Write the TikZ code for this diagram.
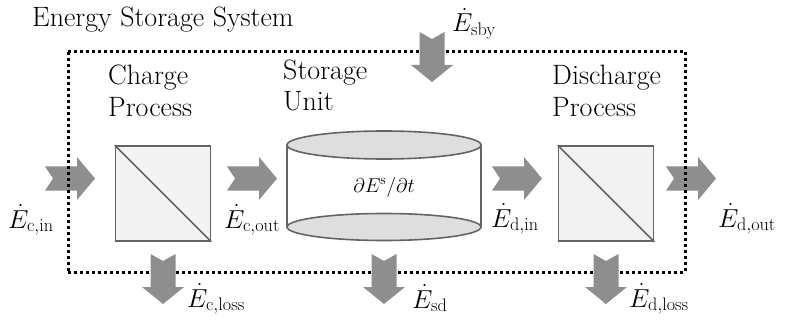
\RequirePackage{fix-cm}
\documentclass[tikz,border=0pt]{standalone}
\definecolor{arrowgray}{RGB}{142,142,142}
\definecolor{boxfill}{RGB}{242,242,242}
\definecolor{boxline}{RGB}{100,100,100}
\definecolor{capfill}{RGB}{222,222,222}
\tikzset{
  rarrow/.pic={\fill[arrowgray] (-25,-12) -- (7,-12) -- (7,-21.5) -- (25,0) -- (7,21.5) -- (7,12) -- (-25,12) -- (-17,0) -- cycle;},
  darrow/.pic={\fill[arrowgray] (-12.5,-25) -- (-12.5,8) -- (-21,8) -- (0,25) -- (21,8) -- (12.5,8) -- (12.5,-25) -- (0,-18) -- cycle;},
  sysline/.style={line width=3pt, dash pattern=on 3pt off 3pt, black},
  procbox/.style={draw=boxline, fill=boxfill, line width=1.6pt},
  lbl/.style={inner sep=0pt, anchor=base west, font=\fontsize{28}{32}\selectfont},
  mlbl/.style={inner sep=0pt, anchor=base west, font=\fontsize{26}{30}\selectfont},
}
\begin{document}
\begin{tikzpicture}[x=1pt, y=-1pt]
\useasboundingbox (0,0) rectangle (786,323);
% system boundary (horizontal sides, behind arrows)
\coordinate (tl) at (68,52);
\coordinate (tr) at (685,52);
\coordinate (bl) at (68,272);
\coordinate (br) at (685,272);
\draw[sysline] (tl) -- (tr);
\draw[sysline] (bl) -- (br);
% process boxes
\node[procbox, minimum width=95pt, minimum height=95pt, inner sep=0pt] (cp) at (163,193.5) {};
\draw[boxline, line width=1.6pt] (cp.north west) -- (cp.south east);
\node[procbox, minimum width=95pt, minimum height=95pt, inner sep=0pt] (dp) at (606,193.5) {};
\draw[boxline, line width=1.6pt] (dp.north west) -- (dp.south east);
% storage cylinder
\coordinate (su) at (384,187);
\fill[white] (287,145) -- (287,227) arc[start angle=180, end angle=360, x radius=97, y radius=13.5] -- (481,145) -- cycle;
\draw[boxline, line width=1.6pt] (287,145) -- (287,227);
\draw[boxline, line width=1.6pt] (481,145) -- (481,227);
\draw[boxline, fill=capfill, line width=1.6pt] (384,227) ellipse[x radius=97, y radius=13.5];
\draw[boxline, fill=capfill, line width=1.6pt] (384,145) ellipse[x radius=97, y radius=14];
\node[inner sep=0pt, font=\fontsize{20}{24}\selectfont] (rate) at (su) {$\partial E^{\mathrm{s}}/\partial t$};
% arrows
\pic at (70,178.5) {rarrow};
\pic at (252,178.5) {rarrow};
\pic at (517,178.5) {rarrow};
\pic at (691,178.5) {rarrow};
\pic at (163,279) {darrow};
\pic at (384,279) {darrow};
\pic at (606,279) {darrow};
\pic at (432,57) {darrow};
% system boundary (vertical sides, over arrows)
\draw[sysline] (tl) -- (bl);
\draw[sysline] (tr) -- (br);
% titles
\node[lbl] (sys) at (32,27) {Energy Storage System};
\node[lbl] (cpt1) at (108,85) {Charge};
\node[lbl] (cpt2) at (108,117) {Process};
\node[lbl] (sut1) at (283,80) {Storage};
\node[lbl] (sut2) at (283,111) {Unit};
\node[lbl] (dpt1) at (552,85) {Discharge};
\node[lbl] (dpt2) at (552,117) {Process};
% flow labels
\node[mlbl] (ecin) at (8,228) {$\dot{E}_{\mathrm{c,in}}$};
\node[mlbl] (ecout) at (224,228) {$\dot{E}_{\mathrm{c,out}}$};
\node[mlbl] (edin) at (491,227) {$\dot{E}_{\mathrm{d,in}}$};
\node[mlbl] (edout) at (718,227) {$\dot{E}_{\mathrm{d,out}}$};
\node[mlbl] (ecloss) at (187,307) {$\dot{E}_{\mathrm{c,loss}}$};
\node[mlbl] (esd) at (412,308) {$\dot{E}_{\mathrm{sd}}$};
\node[mlbl] (edloss) at (629,307) {$\dot{E}_{\mathrm{d,loss}}$};
\node[mlbl] (esby) at (452,32) {$\dot{E}_{\mathrm{sby}}$};
\end{tikzpicture}
\end{document}
